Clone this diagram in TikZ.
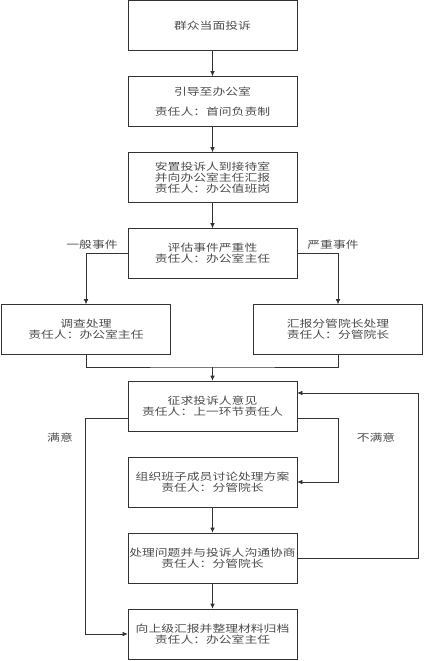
\documentclass[tikz,border=0pt]{standalone}
\usepackage{fontspec}
\newfontfamily\cjk[FakeStretch=1.28]{Noto Sans CJK SC}
\usetikzlibrary{arrows.meta}

\begin{document}
\begin{tikzpicture}[x=1pt,y=1pt,font=\cjk\fontsize{10}{11}\selectfont,
  box/.style={draw=black!80,line width=0.6pt,minimum width=169pt,minimum height=50pt,
    inner sep=0pt,align=center,text=black!70},
  arr/.style={draw=black!80,line width=0.6pt,-{Latex[length=5pt,width=4.5pt]}},
  ln/.style={draw=black!80,line width=0.6pt},
  lbl/.style={text=black!70,inner sep=1pt}]
\useasboundingbox (0,0) rectangle (424,-661);
% main column
\node[box] (visit)   at (212.5,-25.5)  {群众当面投诉};
\node[box] (guide)   at (212.5,-101.5) {引导至办公室\\[9pt]责任人：首问负责制};
\node[box] (settle)  at (212.5,-177.5) {安置投诉人到接待室\\并向办公室主任汇报\\责任人：办公值班岗};
\node[box] (assess)  at (212.5,-253.5) {评估事件严重性\\责任人：办公室主任};
\node[box] (probe)   at (86,-329.5)    {调查处理\\责任人：办公室主任};
\node[box] (report)  at (338,-329.5)   {汇报分管院长处理\\责任人：分管院长};
\node[box] (opinion) at (212.5,-406)   {征求投诉人意见\\责任人：上一环节责任人};
\node[box] (plan)    at (212.5,-482)   {组织班子成员讨论处理方案\\责任人：分管院长};
\node[box] (handle)  at (212.5,-558)   {处理问题并与投诉人沟通协商\\责任人：分管院长};
\node[box] (archive) at (212.5,-634)   {向上级汇报并整理材料归档\\责任人：办公室主任};
% straight arrows
\foreach \a/\b in {visit/guide,guide/settle,settle/assess,plan/handle,handle/archive}
  \draw[arr] (\a) -- (\b);
% branches
\draw[arr] (assess.west) -| (probe.north);
\draw[arr] (assess.east) -| (report.north);
\node[lbl] (lgen) at (92,-245) {一般事件};
\node[lbl] (lsev) at (333,-245) {严重事件};
\coordinate (join) at (212.5,-367);
\draw[ln] (probe.south) |- (join) -| (report.south);
\draw[arr] (join) -- (opinion.north);
% satisfaction
\draw[arr] ([yshift=-12pt]opinion.west) -- ++(-42,0) |- (archive.west);
\draw[arr] ([yshift=-12pt]opinion.east) -- ++(41,0) |- (plan.east);
\draw[arr] (handle.east) -- ++(121,0) |- ([yshift=13pt]opinion.east);
\node[lbl] (lok) at (60,-438) {满意};
\node[lbl] (lno) at (376,-438) {不满意};
\end{tikzpicture}
\end{document}
